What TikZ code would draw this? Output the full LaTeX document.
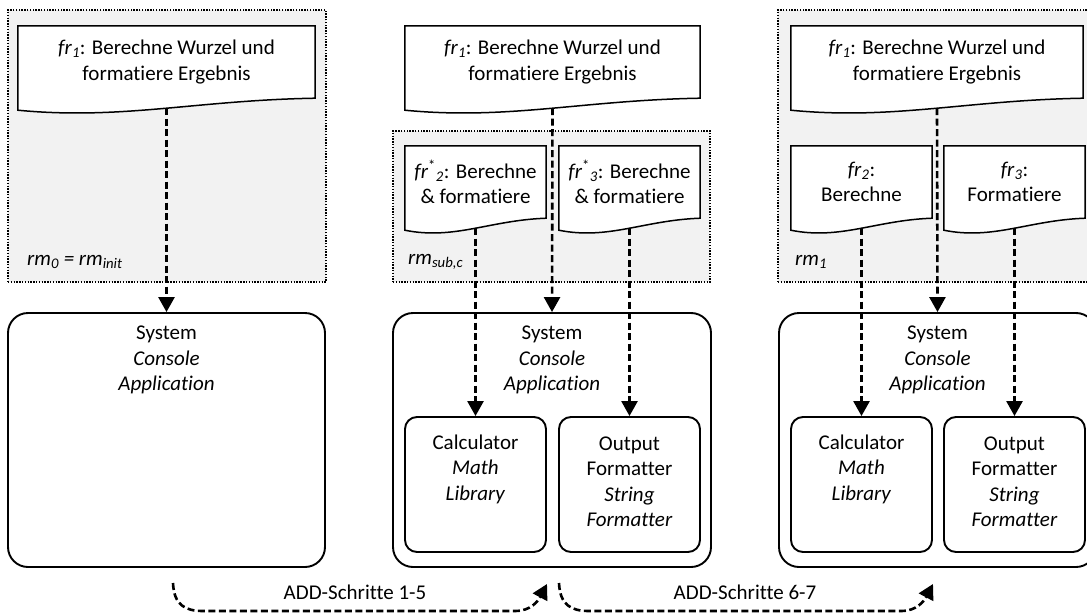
\documentclass[tikz,border=0pt]{standalone}
\usepackage{fontspec}
\setmainfont{Carlito}[RawFeature=-liga, RawFeature=-clig, RawFeature=-calt, RawFeature=-dlig]
\usetikzlibrary{arrows.meta,calc}

\pgfdeclarelayer{regions}
\pgfdeclarelayer{shapes}
\pgfsetlayers{regions,shapes,main}

% italic subscript / superscript helpers
\newcommand{\ilo}[1]{\textsubscript{\textit{#1}}}
\newcommand{\ihi}[1]{\textsuperscript{#1}}

% outline of a document symbol with a wavy lower edge
\newcommand{\docoutline}[1]{%
  \begin{pgfonlayer}{shapes}
    \filldraw[docline] (#1.north west) -- ($(#1.south west)+(0,12)$)
      .. controls ($(#1.south west)!0.35!(#1.south east)+(0,22)$)
              and ($(#1.south west)!0.6!(#1.south east)+(0,2)$) .. (#1.south east)
      -- (#1.north east) -- cycle;
  \end{pgfonlayer}}

\tikzset{
  every node/.style={font=\fontsize{21}{25.5}\selectfont, inner sep=0pt},
  docnode/.style={align=center, minimum height=72pt},
  docline/.style={draw=black, fill=white, line width=1.5pt},
  region/.style={draw=black, fill=black!5, line width=1.4pt, dash pattern=on 1.4pt off 1.4pt},
  sysbox/.style={draw=black, fill=white, line width=1.9pt, rounded corners=20pt},
  compbox/.style={draw=black, fill=white, line width=1.9pt, rounded corners=12pt},
  txt/.style={align=center},
  flow/.style={line width=2.6pt, dash pattern=on 7pt off 3.5pt,
    -{Triangle[width=16pt,length=15pt]}},
}

\begin{document}
\begin{tikzpicture}[x=1pt,y=-1pt]
\clip (0,0) rectangle (1087,613);

% ---- regions (gray, dotted) ----
\begin{pgfonlayer}{regions}
  \node[region, minimum width=318pt, minimum height=272pt] (regA) at (167,146) {};
  \node[region, minimum width=317pt, minimum height=151pt] (regB) at (551.5,206.5) {};
  \node[region, minimum width=318pt, minimum height=272pt] (regC) at (937,146) {};
\end{pgfonlayer}
\node[anchor=west] (lblA) at (27,262) {\textit{rm}\ilo{0} \textit{= rm}\ilo{init}};
\node[anchor=west] (lblB) at (408,262) {\textit{rm}\ilo{sub,c}};
\node[anchor=west] (lblC) at (795,262) {\textit{rm}\ilo{1}};

% ---- requirement documents ----
\node[docnode, minimum width=297pt] (fA) at (166.5,62)
  {\textit{fr}\ilo{1}: Berechne Wurzel und\\formatiere Ergebnis};
\node[docnode, minimum width=295pt] (fB) at (552.5,62)
  {\textit{fr}\ilo{1}: Berechne Wurzel und\\formatiere Ergebnis};
\node[docnode, minimum width=292pt] (fC) at (937,62)
  {\textit{fr}\ilo{1}: Berechne Wurzel und\\formatiere Ergebnis};
\node[docnode, minimum width=141pt] (f2B) at (475.5,182)
  {\textit{fr}\ihi{*}\ilo{2}: Berechne\\\& formatiere};
\node[docnode, minimum width=141pt] (f3B) at (629.5,182)
  {\textit{fr}\ihi{*}\ilo{3}: Berechne\\\& formatiere};
\node[docnode, minimum width=141pt] (f2C) at (861.5,182)
  {\textit{fr}\ilo{2}:\\Berechne};
\node[docnode, minimum width=141pt] (f3C) at (1014.5,182)
  {\textit{fr}\ilo{3}:\\Formatiere};
\docoutline{fA}\docoutline{fB}\docoutline{fC}
\docoutline{f2B}\docoutline{f3B}\docoutline{f2C}\docoutline{f3C}

% ---- systems ----
\node[sysbox, minimum width=317pt, minimum height=254pt] (sA) at (166.5,440) {};
\node[sysbox, minimum width=318pt, minimum height=254pt] (sB) at (552,440) {};
\node[sysbox, minimum width=317pt, minimum height=254pt] (sC) at (937.5,440) {};
\node[txt] (sAt) at (166.5,360) {System\\\textit{Console}\\\textit{Application}};
\node[txt] (sBt) at (552,360) {System\\\textit{Console}\\\textit{Application}};
\node[txt] (sCt) at (937.5,360) {System\\\textit{Console}\\\textit{Application}};

\node[compbox, minimum width=141pt, minimum height=135pt] (cB) at (475.5,484.5) {};
\node[compbox, minimum width=141pt, minimum height=135pt] (oB) at (629.5,484.5) {};
\node[compbox, minimum width=141pt, minimum height=135pt] (cC) at (861.5,484.5) {};
\node[compbox, minimum width=141pt, minimum height=135pt] (oC) at (1014.5,484.5) {};
\node[txt] (cBt) at (475.5,469) {Calculator\\\textit{Math}\\\textit{Library}};
\node[txt] (oBt) at (629.5,482) {Output\\Formatter\\\textit{String}\\\textit{Formatter}};
\node[txt] (cCt) at (861.5,469) {Calculator\\\textit{Math}\\\textit{Library}};
\node[txt] (oCt) at (1014.5,482) {Output\\Formatter\\\textit{String}\\\textit{Formatter}};

% ---- allocation arrows ----
\draw[flow] ([yshift=-10pt]fA.south) -- (sA.north);
\draw[flow] ([yshift=-10pt]fB.south) -- (sB.north);
\draw[flow] ([yshift=-10pt]f2B.south) -- (cB.north);
\draw[flow] ([yshift=-10pt]f3B.south) -- (oB.north);
\draw[flow] ([yshift=-10pt]fC.south) -- (sC.north);
\draw[flow] ([yshift=-10pt]f2C.south) -- (cC.north);
\draw[flow] ([yshift=-10pt]f3C.south) -- (oC.north);

% ---- design step transitions ----
\coordinate (t1s) at (173,583);
\coordinate (t1e) at (547,584);
\coordinate (t2s) at (559,583);
\coordinate (t2e) at (933,584);
\draw[flow] (t1s) .. controls ($(t1s)+(1,22)$) and ($(t1s)+(12,28)$) .. ($(t1s)+(30,28)$)
  -- ($(t1e)+(-32,27)$) .. controls ($(t1e)+(-16,27)$) and ($(t1e)+(-9,17)$) .. (t1e);
\draw[flow] (t2s) .. controls ($(t2s)+(1,22)$) and ($(t2s)+(12,28)$) .. ($(t2s)+(30,28)$)
  -- ($(t2e)+(-32,27)$) .. controls ($(t2e)+(-16,27)$) and ($(t2e)+(-9,17)$) .. (t2e);
\node (st1) at (355,592) {ADD-Schritte 1-5};
\node (st2) at (745,592) {ADD-Schritte 6-7};
\end{tikzpicture}
\end{document}
